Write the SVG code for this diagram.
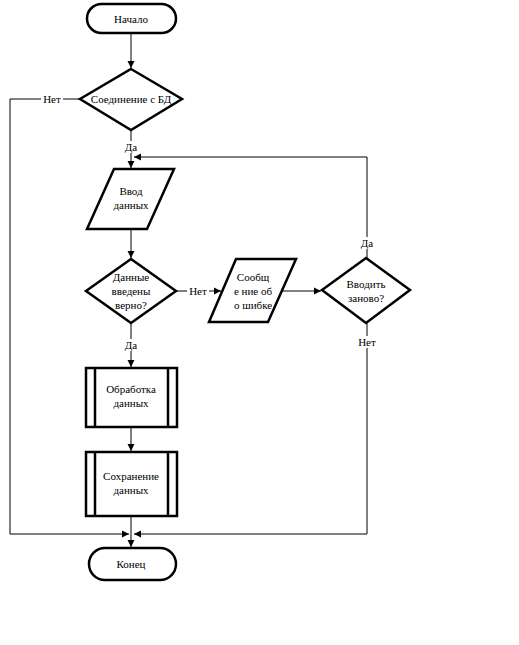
<svg xmlns="http://www.w3.org/2000/svg" width="519" height="645" viewBox="0 0 519 645">
<defs>
<style>
.s{fill:#fff;stroke:#000;stroke-width:2.5}
.c{fill:none;stroke:#000;stroke-width:1}
text{font-family:'Liberation Serif',serif;font-size:11px;fill:#000;text-anchor:middle}
.lb{fill:#fff}
</style>
<marker id="a" markerWidth="8" markerHeight="8" refX="7" refY="4" orient="auto" markerUnits="userSpaceOnUse">
<path d="M0,0.5 L7,4 L0,7.5 Z" fill="#000"/>
</marker>
</defs>
<rect width="519" height="645" fill="#fff"/>
<g id="connectors">
<path class="c" d="M131,33 V68" marker-end="url(#a)"/>
<path class="c" d="M131,130 V168" marker-end="url(#a)"/>
<path class="c" d="M367,258 V157 H134" marker-end="url(#a)"/>
<path class="c" d="M131,229 V258" marker-end="url(#a)"/>
<path class="c" d="M176,291 H221" marker-end="url(#a)"/>
<path class="c" d="M282,291 H321" marker-end="url(#a)"/>
<path class="c" d="M131,323 V367" marker-end="url(#a)"/>
<path class="c" d="M131,427 V451" marker-end="url(#a)"/>
<path class="c" d="M131,516 V547" marker-end="url(#a)"/>
<path class="c" d="M80,99 H10 V534 H129" marker-end="url(#a)"/>
<path class="c" d="M367,323 V534 H134" marker-end="url(#a)"/>
<rect class="lb" x="41" y="93" width="22" height="12"/>
<text x="52" y="103">Нет</text>
<rect class="lb" x="123" y="141" width="16" height="12"/>
<text x="131" y="151">Да</text>
<rect class="lb" x="187" y="285" width="22" height="12"/>
<text x="198" y="295">Нет</text>
<rect class="lb" x="359" y="237" width="16" height="12"/>
<text x="367" y="247">Да</text>
<rect class="lb" x="356" y="336" width="22" height="12"/>
<text x="367" y="346">Нет</text>
<rect class="lb" x="123" y="339" width="16" height="12"/>
<text x="131" y="349">Да</text>
</g>
<g id="start">
<rect class="s" x="87" y="4" width="89" height="29" rx="14.5"/>
<text x="131" y="22.5">Начало</text>
</g>
<g id="dbconn">
<polygon class="s" points="131,69 182,99 131,130 80,99"/>
<text x="131" y="103">Соединение с БД</text>
</g>
<g id="input">
<polygon class="s" points="114,169 174,169 147,229 87,229"/>
<text x="131" y="195">Ввод</text>
<text x="131" y="209">данных</text>
</g>
<g id="check">
<polygon class="s" points="131,259 176,291 131,323 86,291"/>
<text x="131" y="281">Данные</text>
<text x="131" y="295">введены</text>
<text x="131" y="309">верно?</text>
</g>
<g id="error">
<polygon class="s" points="236,259 296,259 268,322 209,322"/>
<text x="253" y="281">Сообщ</text>
<text x="253" y="295">е ние об</text>
<text x="253" y="309">о шибке</text>
</g>
<g id="retry">
<polygon class="s" points="366,258 410,290 366,323 322,290"/>
<text x="366" y="288">Вводить</text>
<text x="366" y="302">заново?</text>
</g>
<g id="process">
<rect class="s" x="86" y="368" width="91" height="59"/>
<line class="s" x1="95" y1="368" x2="95" y2="427"/>
<line class="s" x1="168" y1="368" x2="168" y2="427"/>
<text x="131" y="393">Обработка</text>
<text x="131" y="407">данных</text>
</g>
<g id="save">
<rect class="s" x="86" y="452" width="91" height="64"/>
<line class="s" x1="95" y1="452" x2="95" y2="516"/>
<line class="s" x1="168" y1="452" x2="168" y2="516"/>
<text x="131" y="480">Сохранение</text>
<text x="131" y="494">данных</text>
</g>
<g id="end">
<rect class="s" x="89" y="548" width="87" height="32" rx="16"/>
<text x="131" y="568">Конец</text>
</g>
</svg>
